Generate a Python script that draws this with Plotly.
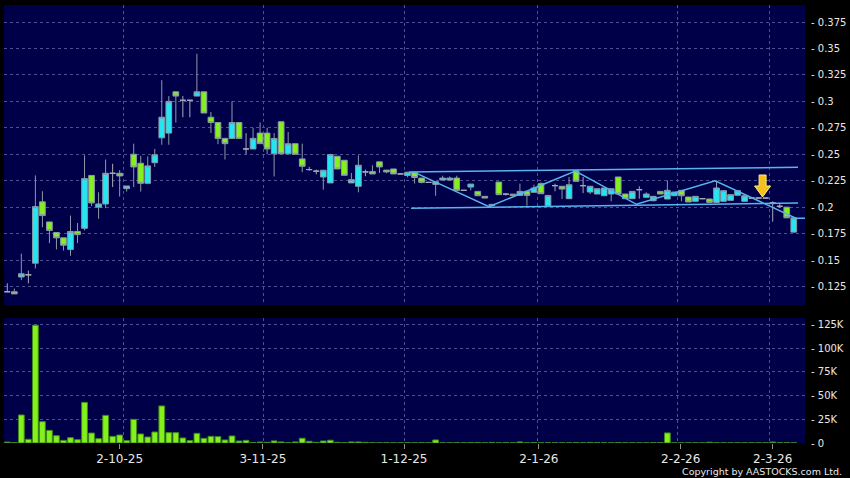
import plotly.graph_objects as go

# ---------------- data ----------------
opens = [0.120, 0.120, 0.134, 0.136, 0.147, 0.205, 0.186, 0.176, 0.171, 0.160,
         0.177, 0.180, 0.230, 0.200, 0.203, 0.232, 0.232, 0.2175, 0.250, 0.2415,
         0.2225, 0.242, 0.2655, 0.270, 0.309, 0.301, 0.301, 0.305, 0.309, 0.285,
         0.280, 0.265, 0.265, 0.280, 0.255, 0.255, 0.270, 0.270, 0.2504, 0.2807,
         0.2504, 0.260, 0.2456, 0.2355, 0.234, 0.2285, 0.2229, 0.2481, 0.2443, 0.2229,
         0.2197, 0.2333, 0.2336, 0.2428, 0.235, 0.2361, 0.2314, 0.2300, 0.2329, 0.2275,
         0.2234, 0.2215, 0.2256, 0.2256, 0.2275, 0.2159, 0.2190, 0.2149, 0.2102, 0.2014,
         0.2237, 0.2123, 0.2123, 0.2111, 0.2149, 0.2140, 0.2222, 0.2014, 0.2203, 0.2197,
         0.2080, 0.2344, 0.2203, 0.2143, 0.2124, 0.2108, 0.2124, 0.2285, 0.2124, 0.2080,
         0.2165, 0.2093, 0.2061, 0.2149, 0.2077, 0.2108, 0.2159, 0.2096, 0.2055, 0.2080,
         0.2077, 0.2045, 0.2055, 0.2064, 0.2112, 0.2055, 0.2086, 0.2086, 0.2086, 0.2039,
         0.2008, 0.2000, 0.1764]
highs = [0.128, 0.123, 0.156, 0.140, 0.230, 0.215, 0.186, 0.176, 0.171, 0.192,
         0.185, 0.249, 0.230, 0.214, 0.245, 0.241, 0.235, 0.220, 0.260, 0.2485,
         0.248, 0.255, 0.320, 0.305, 0.309, 0.305, 0.301, 0.345, 0.309, 0.290,
         0.280, 0.265, 0.300, 0.280, 0.270, 0.275, 0.280, 0.275, 0.270, 0.281,
         0.271, 0.260, 0.260, 0.238, 0.2355, 0.2349, 0.2504, 0.2481, 0.2443, 0.2323,
         0.249, 0.2355, 0.2396, 0.2428, 0.235, 0.2361, 0.2314, 0.2333, 0.2329, 0.2275,
         0.2234, 0.2240, 0.2297, 0.2290, 0.2297, 0.2159, 0.2218, 0.2149, 0.2102, 0.2026,
         0.2237, 0.2130, 0.2123, 0.2222, 0.2149, 0.2212, 0.2234, 0.2111, 0.2222, 0.2197,
         0.2285, 0.2344, 0.2285, 0.2197, 0.2174, 0.2181, 0.2174, 0.2285, 0.2124, 0.2149,
         0.2197, 0.2140, 0.2102, 0.2149, 0.2253, 0.2143, 0.2159, 0.2096, 0.2102, 0.2080,
         0.2077, 0.2253, 0.2156, 0.2118, 0.2156, 0.2108, 0.2086, 0.2086, 0.2086, 0.2055,
         0.2036, 0.2000, 0.1899]
lows = [0.120, 0.118, 0.131, 0.128, 0.142, 0.181, 0.166, 0.160, 0.159, 0.154,
        0.166, 0.178, 0.201, 0.189, 0.199, 0.219, 0.210, 0.2147, 0.219, 0.2147,
        0.2225, 0.238, 0.259, 0.259, 0.280, 0.285, 0.285, 0.305, 0.289, 0.270,
        0.2595, 0.245, 0.265, 0.265, 0.250, 0.255, 0.260, 0.250, 0.229, 0.250,
        0.2504, 0.250, 0.233, 0.2345, 0.231, 0.2165, 0.2229, 0.2361, 0.2301, 0.2229,
        0.2140, 0.2292, 0.2314, 0.2323, 0.232, 0.2314, 0.2314, 0.2283, 0.2223, 0.2225,
        0.2234, 0.2108, 0.2256, 0.2256, 0.2159, 0.2159, 0.2159, 0.2108, 0.2086, 0.2014,
        0.2118, 0.2110, 0.2110, 0.2111, 0.2014, 0.2140, 0.2127, 0.2014, 0.2150, 0.2077,
        0.2080, 0.2244, 0.2133, 0.2124, 0.2124, 0.2108, 0.2055, 0.2124, 0.2080, 0.2080,
        0.2080, 0.2093, 0.2055, 0.2124, 0.2077, 0.2108, 0.2055, 0.2049, 0.2055, 0.2080,
        0.2045, 0.2045, 0.2055, 0.2064, 0.2112, 0.2055, 0.2086, 0.2086, 0.2086, 0.1862,
        0.1992, 0.1899, 0.1756]
closes = [0.120, 0.118, 0.137, 0.136, 0.2005, 0.192, 0.178, 0.171, 0.164, 0.177,
          0.174, 0.227, 0.204, 0.203, 0.232, 0.232, 0.2295, 0.220, 0.238, 0.2225,
          0.239, 0.2495, 0.285, 0.300, 0.305, 0.301, 0.301, 0.309, 0.289, 0.280,
          0.265, 0.260, 0.280, 0.265, 0.255, 0.265, 0.260, 0.255, 0.2649, 0.2504,
          0.2599, 0.250, 0.2386, 0.2355, 0.234, 0.2349, 0.2497, 0.2361, 0.2301, 0.2260,
          0.2396, 0.2333, 0.2314, 0.2380, 0.2333, 0.2314, 0.2314, 0.2330, 0.2280, 0.2234,
          0.2234, 0.2240, 0.2275, 0.2275, 0.2159, 0.2159, 0.2218, 0.2108, 0.2086, 0.2026,
          0.2118, 0.2123, 0.2110, 0.2149, 0.2111, 0.2181, 0.2127, 0.2111, 0.2203, 0.2171,
          0.2212, 0.2244, 0.2203, 0.2197, 0.2174, 0.2181, 0.2174, 0.2124, 0.2080, 0.2149,
          0.2165, 0.2124, 0.2102, 0.2124, 0.2159, 0.2143, 0.2108, 0.2049, 0.2102, 0.2080,
          0.2045, 0.2181, 0.2156, 0.2118, 0.2156, 0.2108, 0.2086, 0.2086, 0.2086, 0.2039,
          0.2008, 0.1899, 0.1899]
volume_k = [1.0, 0.5, 29.5, 3.9, 124.0, 22.5, 13.3, 7.7, 2.8, 5.6,
            3.5, 42.8, 10.5, 4.6, 29.1, 7.0, 8.4, 2.5, 24.9, 9.5,
            6.3, 11.6, 39.0, 10.9, 10.9, 5.3, 2.5, 10.2, 4.9, 7.0,
            6.7, 3.2, 7.4, 2.1, 2.8, 0.4, 1.0, 0.7, 2.2, 1.1,
            0.4, 1.1, 5.0, 1.8, 0.7, 2.1, 2.9, 0.7, 0.3, 1.1,
            1.1, 0.7, 0.3, 0.2, 0.3, 0.2, 0.2, 0.3, 0.2, 0.3,
            0.2, 3.2, 0.2, 0.2, 0.3, 0.2, 0.5, 0.5, 0.2, 0.6,
            0.2, 0.4, 0.2, 1.1, 0.2, 0.5, 0.2, 0.2, 0.2, 0.2,
            0.2, 0.5, 0.2, 0.6, 0.4, 0.2, 0.2, 0.5, 0.2, 0.2,
            0.2, 0.2, 0.3, 0.4, 10.6, 0.2, 0.2, 0.2, 0.2, 0.2,
            0.8, 0.2, 0.2, 0.2, 0.2, 0.2, 0.2, 0.2, 0.2, 1.0,
            0.2, 0.3, 0.2]

x_label_pos = [16.0, 36.4, 56.5, 75.7, 95.9, 109.0]
x_labels = ["2-10-25", "3-11-25", "1-12-25", "2-1-26", "2-2-26", "2-3-26"]
x_grid_pos = [16.5, 36.5, 56.5, 75.5, 95.5, 108.5]
price_ticks = [0.125, 0.15, 0.175, 0.2, 0.225, 0.25, 0.275, 0.3, 0.325, 0.35, 0.375]
price_tick_text = ["0.125", "0.15", "0.175", "0.2", "0.225", "0.25", "0.275", "0.3", "0.325", "0.35", "0.375"]
vol_ticks = [0, 25, 50, 75, 100, 125]
vol_tick_text = ["0", "25K", "50K", "75K", "100K", "125K"]

# drawn trend lines (index, price)
channel_top_x = [57.2, 112.6]
channel_top_y = [0.2332, 0.2377]
channel_bot_x = [57.5, 112.6]
channel_bot_y = [0.1990, 0.2039]
zigzag_x = [58.05, 68.6, 80.9, 89.6, 100.8, 112.3, 113.6]
zigzag_y = [0.2326, 0.2004, 0.2342, 0.2027, 0.2250, 0.1895, 0.1895]
arrow_x = 107.56
arrow_y = 0.2096

# ---------------- styling ----------------
BG = "#000048"
GRID = "#4e4e90"
CYAN = "#22e6f2"
GREEN = "#84f01c"
EDGE = "#8a9aa8"
DOJI = "#a8a8b8"
LINE = "#58b4ec"
FONT = "DejaVu Sans"

idx = list(range(len(opens)))
groups = {"up": [], "down": [], "doji": []}
for i in idx:
    if closes[i] > opens[i]:
        groups["up"].append(i)
    elif closes[i] < opens[i]:
        groups["down"].append(i)
    else:
        groups["doji"].append(i)

fig = go.Figure()

def sub(arr, ids):
    return [arr[i] for i in ids]

style = {
    "up": dict(increasing=dict(fillcolor=CYAN, line=dict(color=EDGE, width=1)),
               decreasing=dict(fillcolor=CYAN, line=dict(color=EDGE, width=1))),
    "down": dict(increasing=dict(fillcolor=GREEN, line=dict(color=EDGE, width=1)),
                 decreasing=dict(fillcolor=GREEN, line=dict(color=EDGE, width=1))),
    "doji": dict(increasing=dict(fillcolor=DOJI, line=dict(color=DOJI, width=1)),
                 decreasing=dict(fillcolor=DOJI, line=dict(color=DOJI, width=1))),
}
for key, ids in groups.items():
    fig.add_trace(go.Candlestick(
        x=ids, open=sub(opens, ids), high=sub(highs, ids), low=sub(lows, ids),
        close=sub(closes, ids), xaxis="x", yaxis="y", showlegend=False,
        hoverinfo="skip", whiskerwidth=0, **style[key]))

for lx, ly in [(channel_top_x, channel_top_y), (channel_bot_x, channel_bot_y), (zigzag_x, zigzag_y)]:
    fig.add_trace(go.Scatter(x=lx, y=ly, mode="lines", line=dict(color=LINE, width=1.5),
                             xaxis="x", yaxis="y", showlegend=False, hoverinfo="skip"))

fig.add_trace(go.Bar(x=idx, y=volume_k, xaxis="x2", yaxis="y2", showlegend=False,
                     marker=dict(color=GREEN, line=dict(color="#3f8a18", width=1)),
                     hoverinfo="skip"))

fig.add_shape(type="path", xref="x", yref="y", xsizemode="pixel", ysizemode="pixel",
              xanchor=arrow_x, yanchor=arrow_y,
              path="M 0 0 L -8 11 L -3.5 11 L -3.5 22 L 3.5 22 L 3.5 11 L 8 11 Z",
              fillcolor="#f4c01a", line=dict(color="#ffe98a", width=1))

fig.add_annotation(text="Copyright by AASTOCKS.com Ltd.", xref="paper", yref="paper",
                   x=1.0486, y=-0.064, xanchor="right", yanchor="middle", showarrow=False,
                   font=dict(family=FONT, size=9.5, color="#e8e8e8"))

minor_grid = dict(tickmode="array", tickvals=x_grid_pos, showgrid=True, gridcolor=GRID,
                  griddash="3px,3px", gridwidth=1, ticks="")
xrange = [-0.47, 113.6]

fig.update_layout(
    width=850, height=478,
    margin=dict(l=4, r=43, t=5, b=35),
    paper_bgcolor="black", plot_bgcolor=BG,
    boxgap=0.1, boxgroupgap=0.1, bargap=0.18,
    font=dict(family=FONT, color="#e8e8e8"),
    xaxis=dict(domain=[0, 1], anchor="y", range=xrange, showticklabels=False,
               tickvals=x_label_pos, showgrid=False, zeroline=False, ticks="",
               rangeslider=dict(visible=False), minor=minor_grid),
    xaxis2=dict(domain=[0, 1], anchor="y2", range=xrange, matches="x",
                tickvals=x_label_pos, ticktext=x_labels, showgrid=False, zeroline=False,
                ticks="outside", ticklen=5, tickcolor="#909090",
                tickfont=dict(family=FONT, size=12, color="#e8e8e8"), minor=minor_grid),
    yaxis=dict(domain=[0.3151, 1], anchor="x", side="right", range=[0.1075, 0.3911],
               tickvals=price_ticks, ticktext=["- " + t for t in price_tick_text],
               showgrid=True, gridcolor=GRID, griddash="3px,3px", zeroline=False,
               ticks="", ticklabelstandoff=5,
               tickfont=dict(family=FONT, size=10, color="#e8e8e8")),
    yaxis2=dict(domain=[0, 0.2854], anchor="x2", side="right", range=[0, 131.6],
                tickvals=vol_ticks, ticktext=["- " + t for t in vol_tick_text],
                showgrid=True, gridcolor=GRID, griddash="3px,3px", zeroline=False,
                ticks="", ticklabelstandoff=5,
                tickfont=dict(family=FONT, size=10, color="#e8e8e8")),
)

fig.write_html(
    "out.html",
    config={"displayModeBar": False, "staticPlot": True},
    post_script="document.body.style.margin='0';document.body.style.padding='0';"
                "document.body.style.overflow='hidden';document.body.style.background='black';",
)
